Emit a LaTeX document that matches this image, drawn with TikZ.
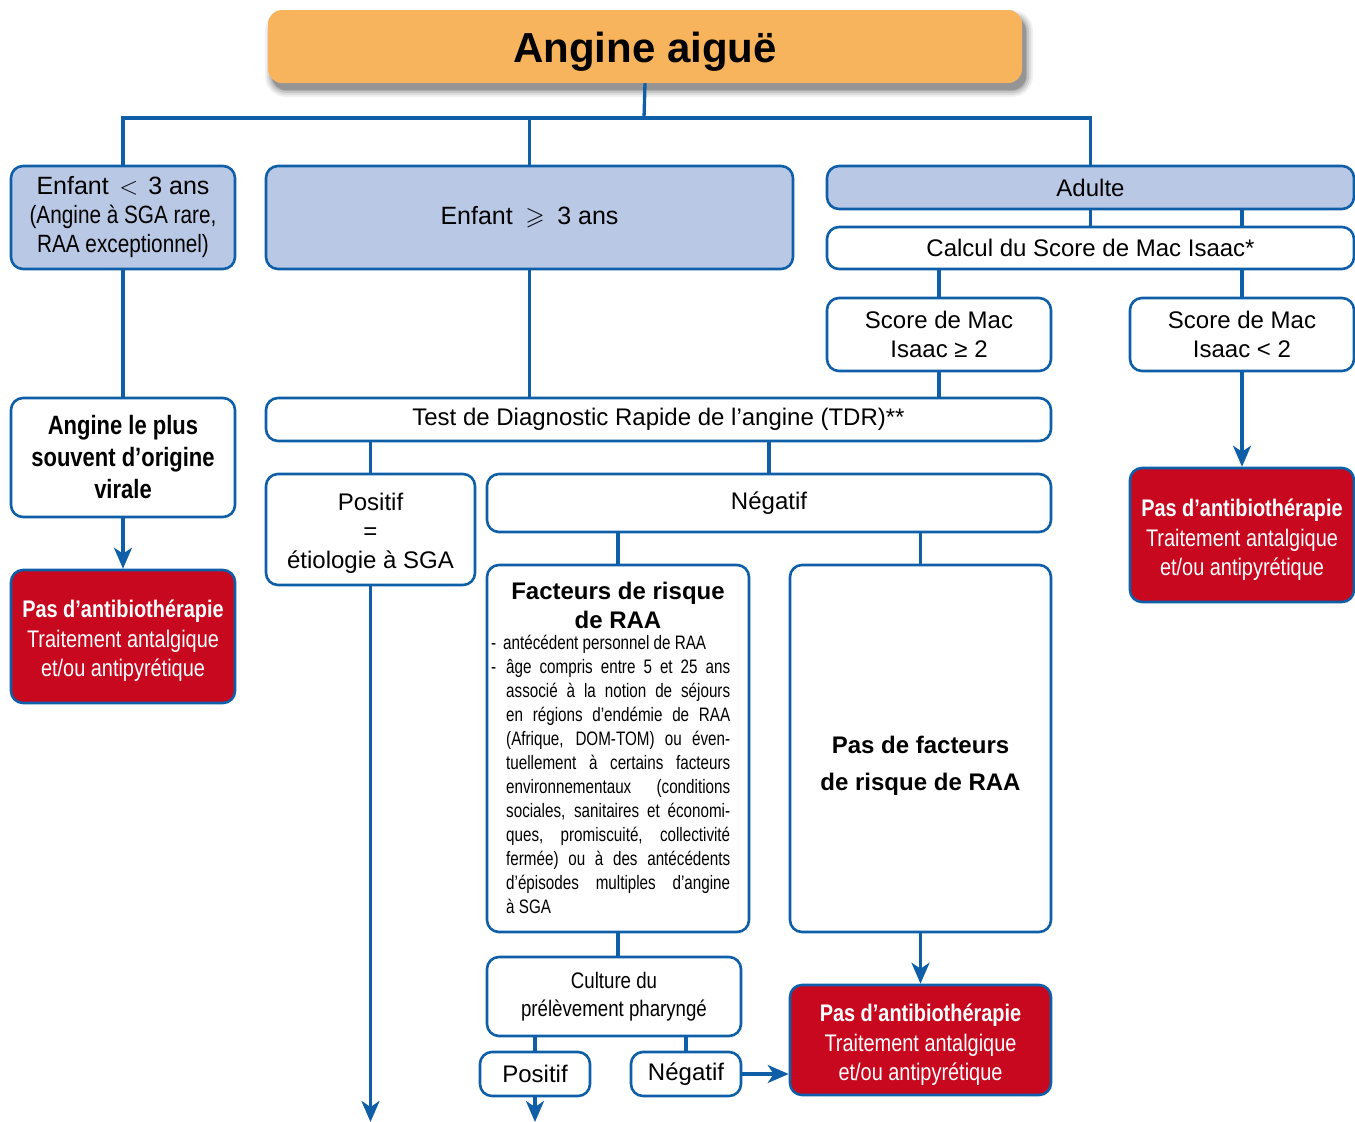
\documentclass[tikz,border=0pt]{standalone}
\usepackage{fontspec}
\usepackage{amssymb}
\setmainfont{Liberation Sans}
\newfontfamily\cond[FakeStretch=0.83]{Liberation Sans}
\newfontfamily\condn[FakeStretch=0.78]{Liberation Sans}
\usetikzlibrary{arrows.meta}
\definecolor{bl}{RGB}{14,94,168}
\definecolor{lbfill}{RGB}{185,201,229}
\definecolor{redc}{RGB}{200,8,30}
\definecolor{orangec}{RGB}{248,180,92}
\begin{document}
\begin{tikzpicture}[x=1pt,y=-1pt,
  box/.style={draw=bl, line width=2.6pt, rounded corners=12pt, fill=white, inner sep=0pt, align=center, font=\fontsize{24}{29}\selectfont},
  bbox/.style={box, fill=lbfill},
  rbox/.style={box, fill=redc},
  rtext/.style={text=white, align=center, inner sep=0pt, font=\cond\fontsize{24}{29.5}\selectfont},
  conn/.style={draw=bl, line width=3.3pt},
  arr/.style={conn, -{Stealth[length=21pt,width=18pt,inset=6pt]}},
  sz/.style n args={2}{minimum width=#1pt, minimum height=#2pt}
]
\useasboundingbox (0,0) rectangle (1355,1122);
\coordinate (bus) at (644,118);
\coordinate (bottom) at (0,1122);

% blurred shadow of the title
\foreach \e/\o in {7/0.06,5/0.08,3/0.1,1/0.12,0/0.14}{
  \fill[black, opacity=\o, rounded corners=14pt+\e pt] (272-\e,17-\e) rectangle (1026+\e,90+\e);
}
% title
\node[fill=orangec, rounded corners=14pt, sz={754}{73}, inner sep=0pt] (title) at (645,46.5) {};
\node[anchor=base, inner sep=0pt, font=\bfseries\fontsize{42}{48}\selectfont] (titletext) at (645,62) {Angine aiguë};

% level 1
\node[bbox, sz={224}{103}, font=\fontsize{25}{29}\selectfont] (e1) at (123,217.5) {Enfant\hspace{0.42em}$<$\hspace{0.4em}3 ans\\{\cond (Angine à SGA rare,}\\{\cond RAA exceptionnel)}};
\node[bbox, sz={527}{103}, font=\fontsize{25}{29}\selectfont] (e3) at (529.5,217.5) {Enfant\enspace$\geqslant$\enspace3 ans};
\node[bbox, sz={527}{43}] (ad) at (1090.5,187.5) {Adulte};
\node[box, sz={527}{42}] (calc) at (1090.5,248) {Calcul du Score de Mac Isaac*};
\node[box, sz={224}{73}] (s1) at (939,334.5) {Score de Mac\\Isaac ≥ 2};
\node[box, sz={224}{73}] (s2) at (1242,334.5) {Score de Mac\\Isaac < 2};
\node[rbox, sz={224}{134}] (r3) at (1242,535) {};
\node[rtext] (r3text) at (1242,540) {\textbf{Pas d’antibiothérapie}\\Traitement antalgique\\et/ou antipyrétique};

\node[box, sz={224}{119}, font=\cond\bfseries\fontsize{26.5}{32}\selectfont] (vir) at (123,457.5) {Angine le plus\\souvent d’origine\\virale};
\node[rbox, sz={224}{133}] (r1) at (123,636.5) {};
\node[rtext] (r1text) at (123,641) {\textbf{Pas d’antibiothérapie}\\Traitement antalgique\\et/ou antipyrétique};

\node[box, sz={785}{43}] (tdr) at (658.5,419.5) {Test de Diagnostic Rapide de l’angine (TDR)**};
\node[box, sz={209}{111}] (pos) at (370.5,529.5) {};
\node[align=center, inner sep=0pt, font=\fontsize{24}{29}\selectfont] (postext) at (370.5,533) {Positif\\=\\étiologie à SGA};
\node[box, sz={564}{58}] (neg) at (769,503) {Négatif};

\node[box, sz={262}{367}] (fact) at (618,748.5) {};
\node[box, sz={261}{367}] (nf) at (920.5,748.5) {};
\node[font=\bfseries\fontsize{24}{37}\selectfont, align=center, inner sep=0pt] (nft) at (920.5,766) {Pas de facteurs\\de risque de RAA};
\node[font=\bfseries\fontsize{24}{29}\selectfont, align=center, inner sep=0pt] (ftt) at (618,605) {Facteurs de risque\\de RAA};
\node[anchor=base west, inner sep=0pt] (ftl) at (491,649.5) {\begin{minipage}[t]{245pt}\condn\fontsize{19.5}{24}\selectfont\setlength{\parindent}{0pt}\setlength{\parskip}{0pt}%
\makebox[12pt][l]{-}antécédent personnel de RAA\par
\makebox[15pt][l]{-}\makebox[224pt][s]{âge compris entre 5 et 25 ans}\par
\hspace*{15pt}\makebox[224pt][s]{associé à la notion de séjours}\par
\hspace*{15pt}\makebox[224pt][s]{en régions d’endémie de RAA}\par
\hspace*{15pt}\makebox[224pt][s]{(Afrique, DOM-TOM) ou éven-}\par
\hspace*{15pt}\makebox[224pt][s]{tuellement à certains facteurs}\par
\hspace*{15pt}\makebox[224pt][s]{environnementaux \ (conditions}\par
\hspace*{15pt}\makebox[224pt][s]{sociales, sanitaires et économi-}\par
\hspace*{15pt}\makebox[224pt][s]{ques, promiscuité, collectivité}\par
\hspace*{15pt}\makebox[224pt][s]{fermée) ou à des antécédents}\par
\hspace*{15pt}\makebox[224pt][s]{d’épisodes multiples d’angine}\par
\hspace*{15pt}à SGA\par
\end{minipage}};

\node[box, sz={254}{79}, font=\cond\fontsize{22.5}{28}\selectfont] (cult) at (614,996.5) {Culture du\\prélèvement pharyngé};
\node[box, sz={110}{44}] (p2) at (535,1074) {Positif};
\node[box, sz={110}{44}] (n2) at (686,1074) {Négatif};
\node[rbox, sz={261}{110}] (r4) at (920.5,1040) {};
\node[rtext] (r4text) at (920.5,1045) {\textbf{Pas d’antibiothérapie}\\Traitement antalgique\\et/ou antipyrétique};

% connectors
\draw[conn] (title.south) -- (bus);
\draw[conn] (e1.north) |- (bus) -| (ad.north);
\draw[conn] (e3.north) -- (e3.north |- bus);
\draw[conn] (ad.south) -- (calc.north);
\draw[conn] (ad.south -| s2) -- (calc.north -| s2);
\draw[conn] (calc.south -| s1) -- (s1.north);
\draw[conn] (calc.south -| s2) -- (s2.north);
\draw[conn] (s1.south) -- (s1.south |- tdr.north);
\draw[arr] (s2.south) -- (r3.north);
\draw[conn] (e1.south) -- (vir.north);
\draw[arr] (vir.south) -- (r1.north);
\draw[conn] (e3.south) -- (e3.south |- tdr.north);
\draw[conn] (tdr.south -| pos) -- (pos.north);
\draw[conn] (tdr.south -| neg) -- (neg.north);
\draw[arr] (pos.south) -- (pos.south |- bottom);
\draw[conn] (neg.south -| fact) -- (fact.north);
\draw[conn] (neg.south -| nf) -- (nf.north);
\draw[conn] (fact.south) -- (fact.south |- cult.north);
\draw[conn] (cult.south -| p2) -- (p2.north);
\draw[conn] (cult.south -| n2) -- (n2.north);
\draw[arr] (p2.south) -- (p2.south |- bottom);
\draw[arr] (n2.east) -- (n2.east -| r4.west);
\draw[arr] (nf.south) -- (nf.south |- r4.north);
\end{tikzpicture}
\end{document}
